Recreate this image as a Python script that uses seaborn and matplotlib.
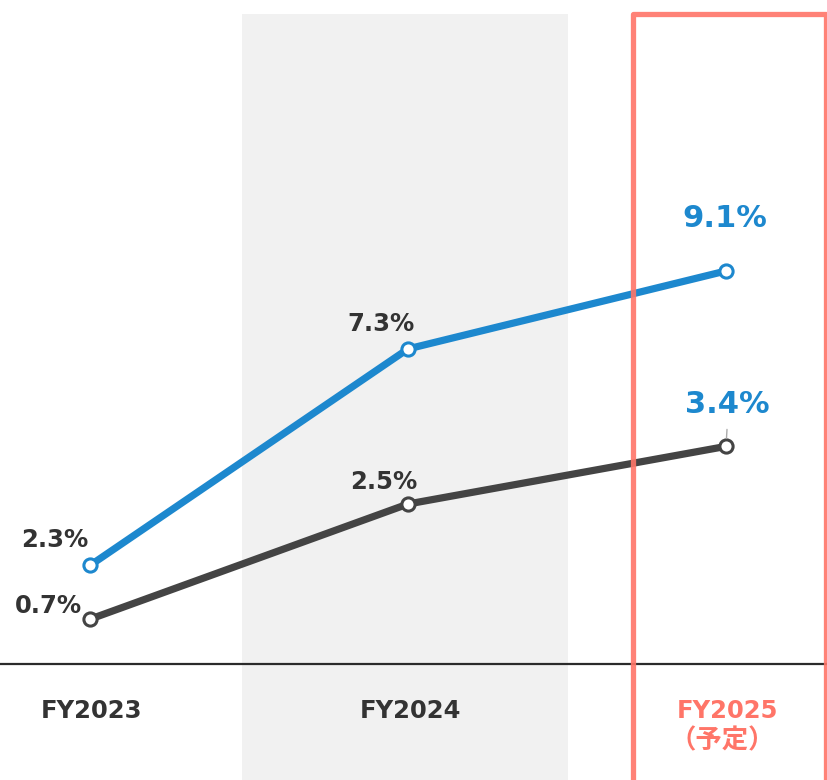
import numpy as np
import pandas as pd
import matplotlib.pyplot as plt
import matplotlib.transforms as mtransforms
from matplotlib.patches import Rectangle
import seaborn as sns

# Data
years = ["FY2023", "FY2024", "FY2025"]
year_sub = ["", "", "（予定）"]
blue_vals = [2.3, 7.3, 9.1]
gray_vals = [0.7, 2.5, 3.4]

BLUE = "#1D88CE"
DARK = "#444444"
TEXT = "#333333"
RED = "#FF7568"
BAND = "#F1F1F1"

sns.set_style("white")
plt.rcParams["font.family"] = ["DejaVu Sans", "Noto Sans CJK JP"]

df = pd.DataFrame({"x": np.arange(len(years)), "blue": blue_vals, "gray": gray_vals})

fig = plt.figure(figsize=(8.28, 7.8), dpi=100)
ax = fig.add_axes([0, 0, 1, 1])
ax2 = ax.twinx()

XLIM = (-90 / 318, (828 - 90) / 318)
# both series share the baseline at px ~665, different scales
ax.set_ylim(-(780 - 665) / 43.3, 665 / 43.3)
ax2.set_ylim(-(780 - 664) / 64.0, 664 / 64.0)

# shaded FY2024 column
ax.axvspan(0.478, 1.503, ymin=0, ymax=(780 - 14) / 780, color=BAND, lw=0, zorder=0)
ax2.axhline(0, color="#2b2b2b", lw=1.6, zorder=1)

sns.lineplot(data=df, x="x", y="blue", ax=ax, color=BLUE, lw=5.2,
             marker="o", markersize=9.5, markerfacecolor="white",
             markeredgecolor=BLUE, markeredgewidth=2.2, zorder=3)
sns.lineplot(data=df, x="x", y="gray", ax=ax2, color=DARK, lw=5.2,
             marker="o", markersize=9.5, markerfacecolor="white",
             markeredgecolor=DARK, markeredgewidth=2.2, zorder=3)
for a in (ax, ax2):
    a.set_xlim(*XLIM)
    a.axis("off")

# value labels
blue_off = [(-35, 25, TEXT, 17.5), (-27, 25, TEXT, 17.5), (-1, 52, BLUE, 22)]
gray_off = [(-42, 13, TEXT, 17.5), (-24, 22, TEXT, 17.5), (1, 42, BLUE, 22)]
for i, v in enumerate(blue_vals):
    dx, dy, c, fs = blue_off[i]
    ax.annotate(f"{v}%", (i, v), xytext=(dx, dy), textcoords="offset pixels",
                ha="center", va="center", fontsize=fs, fontweight="bold",
                color=c, zorder=5)
for i, v in enumerate(gray_vals):
    dx, dy, c, fs = gray_off[i]
    ax2.annotate(f"{v}%", (i, v), xytext=(dx, dy), textcoords="offset pixels",
                 ha="center", va="center", fontsize=fs, fontweight="bold",
                 color=c, zorder=5)
# small leader line on the last grey point
ax2.annotate("", (2, gray_vals[2]), xytext=(1, 17), textcoords="offset pixels",
             arrowprops=dict(arrowstyle="-", color="#aaaaaa", lw=1,
                             shrinkA=0, shrinkB=6))

# category labels
for i, (y, s) in enumerate(zip(years, year_sub)):
    c = RED if s else TEXT
    ax2.annotate(y, (i, 0), xytext=(2, -47), textcoords="offset pixels",
                 ha="center", va="center", fontsize=17.5, fontweight="bold", color=c)
    if s:
        ax2.annotate(s, (i, 0), xytext=(-4, -77), textcoords="offset pixels",
                     ha="center", va="center", fontsize=19, fontweight="bold",
                     color=c, family=["Noto Sans CJK JP", "DejaVu Sans"])

# highlighted forecast column
trans = mtransforms.blended_transform_factory(ax2.transData, ax2.transAxes)
x0 = (633.5 - 90) / 318
x1 = (826.5 - 90) / 318
top = (780 - 13.5) / 780
ax2.add_patch(Rectangle((x0, -0.05), x1 - x0, top + 0.05, transform=trans,
                        fill=False, edgecolor=RED, lw=3.8, alpha=0.9,
                        joinstyle="round", zorder=6, clip_on=False))

fig.savefig("out.png", dpi=100)
